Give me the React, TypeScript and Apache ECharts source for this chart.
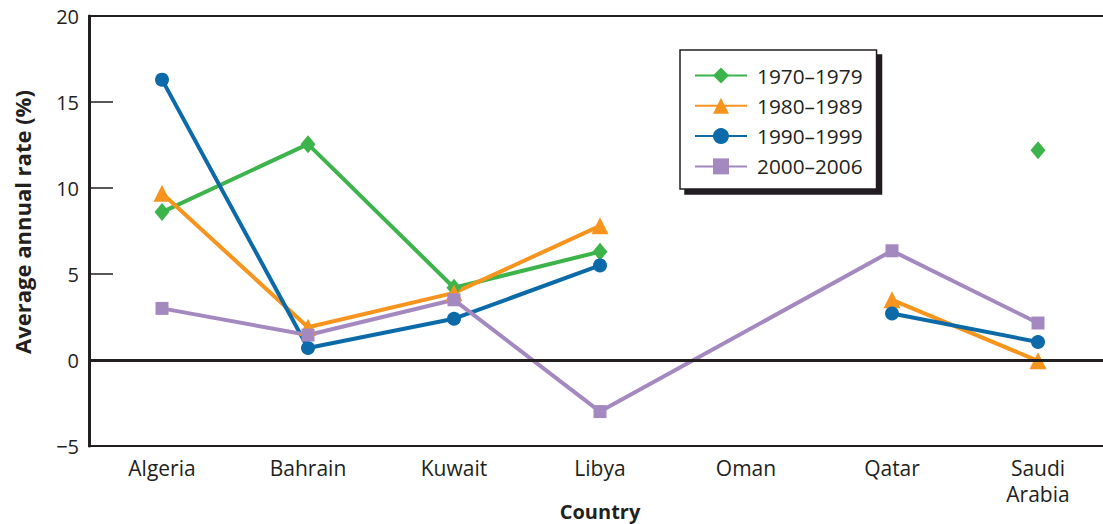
import React, { useEffect, useRef } from "react";
import * as echarts from "echarts";

const countries = ["Algeria", "Bahrain", "Kuwait", "Libya", "Oman", "Qatar", "Saudi\nArabia"];
const s1970 = [8.6, 12.55, 4.2, 6.3, null, null, 12.2];
const s1980 = [9.7, 1.9, 3.9, 7.8, null, 3.5, -0.05];
const s1990 = [16.3, 0.7, 2.4, 5.5, null, 2.7, 1.05];
const s2000 = [3.0, 1.45, 3.5, -3.0, null, 6.35, 2.15];
const seriesNames = ["1970–1979", "1980–1989", "1990–1999", "2000–2006"];
const yTicks = { min: -5, max: 20, interval: 5 };

const FONT = "'Open Sans', 'Noto Sans', sans-serif";
const INK = "#231f20";

export default function App() {
  const ref = useRef<HTMLDivElement>(null);
  useEffect(() => {
    if (!ref.current) return;
    const chart = echarts.init(ref.current, null, { renderer: "svg" });
    const mk = (name: string, data: (number | null)[], color: string, symbol: string, size: number | number[], connect = false) => ({
      name,
      type: "line",
      data,
      connectNulls: connect,
      symbol,
      symbolSize: size,
      showAllSymbol: true,
      z: 3,
      lineStyle: { color, width: 4 },
      itemStyle: { color },
      emphasis: { disabled: true },
    });
    chart.setOption({
      animation: false,
      textStyle: { fontFamily: FONT },
      grid: {
        left: 89, top: 16, width: 1022, bottom: 78,
        outerBoundsMode: "none",
        containLabel: false,
        show: true, borderColor: INK, borderWidth: 2, backgroundColor: "transparent",
      },
      legend: {
        data: seriesNames,
        orient: "vertical",
        left: 680,
        top: 50,
        padding: [15, 14, 12, 14],
        itemGap: 9.3,
        itemWidth: 52,
        itemHeight: 20,
        backgroundColor: "#fff",
        borderColor: INK,
        borderWidth: 1.5,
        shadowColor: INK,
        shadowBlur: 0,
        shadowOffsetX: 5,
        shadowOffsetY: 5,
        textStyle: { fontFamily: FONT, fontSize: 20.8, color: INK, lineHeight: 20, padding: [0, 0, 0, 5] },
      },
      xAxis: {
        type: "category",
        data: countries,
        boundaryGap: true,
        name: "Country",
        nameLocation: "middle",
        nameGap: 56,
        nameMoveOverlap: false,
        nameTextStyle: { fontFamily: FONT, fontSize: 20, fontWeight: "bold", color: INK, lineHeight: 18 },
        axisLine: { lineStyle: { color: INK, width: 1.5 } },
        axisTick: { inside: true, length: 22, lineStyle: { color: INK, width: 1.5 } },
        axisLabel: { fontFamily: FONT, fontSize: 21, color: INK, margin: 9, lineHeight: 26, interval: 0 },
        splitLine: { show: false },
      },
      yAxis: {
        type: "value",
        min: yTicks.min,
        max: yTicks.max,
        interval: yTicks.interval,
        name: "Average annual rate (%)",
        nameLocation: "middle",
        nameGap: 56,
        nameMoveOverlap: false,
        nameTextStyle: { fontFamily: FONT, fontSize: 22, fontWeight: "bold", color: INK, padding: [0, 0, 0, 18] },
        axisLine: { show: true, lineStyle: { color: INK, width: 3 } },
        axisTick: { show: true, inside: true, length: 24, lineStyle: { color: INK, width: 1.5 } },
        axisLabel: { fontFamily: FONT, fontSize: 20, color: INK, margin: 10, formatter: (v: number) => (v < 0 ? "\u2212" + Math.abs(v) : String(v)) },
        splitLine: { show: false },
      },
      series: [
        {
          name: "zero",
          type: "line",
          data: [],
          z: 1,
          silent: true,
          markLine: {
            silent: true,
            symbol: "none",
            label: { show: false },
            lineStyle: { color: INK, width: 3, type: "solid" },
            data: [{ yAxis: 0 }],
          },
        },
        mk(seriesNames[0], s1970, "#3cb44b", "diamond", [15, 18]),
        mk(seriesNames[1], s1980, "#f7941d", "triangle", 17),
        mk(seriesNames[2], s1990, "#0b6aa7", "circle", 14),
        mk(seriesNames[3], s2000, "#a488c0", "rect", 13, true),
      ],
    });
    return () => chart.dispose();
  }, []);
  return <div ref={ref} style={{ width: 1103, height: 524, position: "absolute", left: 0, top: 0 }} />;
}
